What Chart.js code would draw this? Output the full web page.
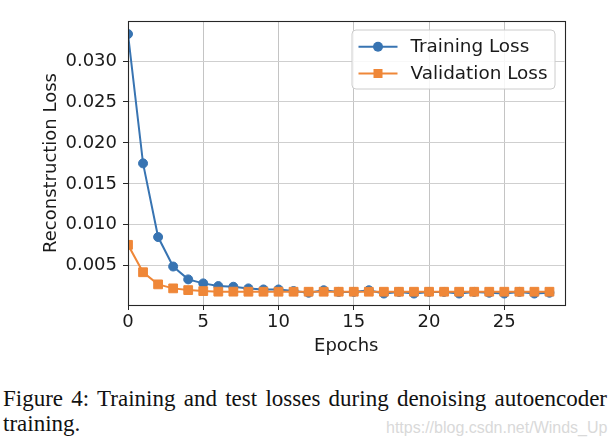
<!DOCTYPE html>
<html><head><meta charset="utf-8">
<script src="https://cdn.jsdelivr.net/npm/chart.js@4"></script>
<style>
html,body{margin:0;padding:0;background:#fff;}
#wrap{position:relative;width:614px;height:444px;overflow:hidden;background:#fff;}
#c{position:absolute;left:0;top:0;}
#cap{position:absolute;left:3px;top:386px;width:604px;font-family:"Liberation Serif","Times New Roman",serif;font-size:23px;line-height:25px;color:#111;text-align:justify;text-align-last:left;}
#wm{position:absolute;left:386px;top:419.5px;font-family:"Liberation Sans",Arial,sans-serif;font-size:16px;line-height:16px;color:#d9d9d9;white-space:nowrap;}
</style></head>
<body><div id="wrap"><canvas id="c" width="614" height="370"></canvas>
<div id="cap">Figure 4: Training and test losses during denoising autoencoder training.</div>
<div id="wm">https://blog.csdn.net/Winds_Up</div></div>
<script>
const epochs = [0,1,2,3,4,5,6,7,8,9,10,11,12,13,14,15,16,17,18,19,20,21,22,23,24,25,26,27,28];
const trainingLoss = [0.0333,0.0175,0.0085,0.0049,0.00333,0.00284,0.00251,0.00243,0.00223,0.0021,0.0021,0.0019,0.0017,0.0020,0.0018,0.0018,0.0020,0.0016,0.0018,0.0016,0.0018,0.0018,0.0016,0.0018,0.0017,0.0016,0.0018,0.0016,0.0017];
const validationLoss = [0.00755,0.0042,0.00272,0.00223,0.00202,0.0019,0.00183,0.00183,0.00182,0.00182,0.00182,0.00182,0.00182,0.00182,0.00182,0.00182,0.00182,0.00182,0.00182,0.00182,0.00182,0.00182,0.00182,0.00182,0.00182,0.00182,0.00182,0.00182,0.00182];
const seriesNames = ['Training Loss','Validation Loss'];
const xTicks = [0,5,10,15,20,25];
const yTicks = [0.005,0.010,0.015,0.020,0.025,0.030];
const xLabel = 'Epochs';
const yLabel = 'Reconstruction Loss';

const FONT = "'DejaVu Sans', sans-serif";
const BLUE = '#3874b2', ORANGE = '#ef8738';

const frame = {
  id: 'frame',
  afterDatasetsDraw(chart) {
    const {ctx, chartArea: a} = chart;
    ctx.save();
    ctx.strokeStyle = '#262626';
    ctx.lineWidth = 1.1;
    ctx.strokeRect(Math.round(a.left) + 0.5, Math.round(a.top) + 0.5, Math.round(a.right - a.left), Math.round(a.bottom - a.top));
    ctx.restore();
  }
};

const legendBox = {
  id: 'legendBox',
  afterDraw(chart) {
    const {ctx, chartArea: a} = chart;
    const ds = chart.data.datasets;
    const w = 203, h = 59;
    const x0 = a.right - 9.5 - w, y0 = a.top + 9;
    ctx.save();
    const r = 4;
    ctx.beginPath();
    ctx.moveTo(x0 + r, y0);
    ctx.lineTo(x0 + w - r, y0); ctx.quadraticCurveTo(x0 + w, y0, x0 + w, y0 + r);
    ctx.lineTo(x0 + w, y0 + h - r); ctx.quadraticCurveTo(x0 + w, y0 + h, x0 + w - r, y0 + h);
    ctx.lineTo(x0 + r, y0 + h); ctx.quadraticCurveTo(x0, y0 + h, x0, y0 + h - r);
    ctx.lineTo(x0, y0 + r); ctx.quadraticCurveTo(x0, y0, x0 + r, y0);
    ctx.closePath();
    ctx.fillStyle = 'rgba(255,255,255,0.85)';
    ctx.fill();
    ctx.strokeStyle = '#cccccc';
    ctx.lineWidth = 1;
    ctx.stroke();
    ds.forEach((d, i) => {
      const y = y0 + 16.7 + i * 26.8;
      ctx.strokeStyle = d.borderColor;
      ctx.lineWidth = d.borderWidth;
      ctx.beginPath(); ctx.moveTo(x0 + 6.5, y); ctx.lineTo(x0 + 45.5, y); ctx.stroke();
      ctx.fillStyle = d.pointBackgroundColor;
      const cx = x0 + 26;
      if (d.pointStyle === 'rect') {
        ctx.fillRect(cx - 4.5, y - 4.5, 9, 9);
      } else {
        ctx.beginPath(); ctx.arc(cx, y, 5, 0, Math.PI * 2); ctx.fill();
      }
      ctx.fillStyle = '#1a1a1a';
      ctx.font = '18.4px ' + FONT;
      ctx.textBaseline = 'middle';
      ctx.textAlign = 'left';
      ctx.fillText(d.label, x0 + 58.5, y + 1);
    });
    ctx.restore();
  }
};

new Chart(document.getElementById('c'), {
  type: 'line',
  data: {
    datasets: [
      {
        label: seriesNames[0],
        data: epochs.map((e, i) => ({x: e, y: trainingLoss[i]})),
        borderColor: BLUE, backgroundColor: BLUE,
        pointBackgroundColor: BLUE, pointBorderColor: BLUE,
        borderWidth: 2, pointRadius: 4.5, pointBorderWidth: 1,
        pointStyle: 'circle', tension: 0, clip: 0, order: 1
      },
      {
        label: seriesNames[1],
        data: epochs.map((e, i) => ({x: e, y: validationLoss[i]})),
        borderColor: ORANGE, backgroundColor: ORANGE,
        pointBackgroundColor: ORANGE, pointBorderColor: ORANGE,
        borderWidth: 2, pointRadius: 6.2, pointBorderWidth: 1,
        pointStyle: 'rect', tension: 0, clip: 0, order: 0
      }
    ]
  },
  options: {
    responsive: false,
    devicePixelRatio: 1,
    animation: false,
    events: [],
    layout: {padding: {left: 0, top: 21, right: 49.5, bottom: 0}},
    plugins: {legend: {display: false}, tooltip: {enabled: false}},
    scales: {
      x: {
        type: 'linear', min: 0, max: 29,
        afterBuildTicks: s => { s.ticks = xTicks.map(v => ({value: v})); },
        afterFit: s => { s.height = 65; },
        grid: {color: '#c4c4c4', lineWidth: 1, tickColor: '#262626', tickLength: 5, drawTicks: true},
        border: {display: false},
        ticks: {color: '#1a1a1a', font: {family: FONT, size: 18}, padding: 1.5, maxRotation: 0, autoSkip: false, callback: v => String(v)},
        title: {display: true, text: xLabel, color: '#1a1a1a', font: {family: FONT, size: 18}, padding: {top: 0, bottom: 12.5}}
      },
      y: {
        type: 'linear', min: 0.0002, max: 0.03489,
        afterBuildTicks: s => { s.ticks = yTicks.map(v => ({value: v})); },
        afterFit: s => { s.width = 128; },
        grid: {color: '#cfcfcf', lineWidth: 1, tickColor: '#262626', tickLength: 5, drawTicks: true},
        border: {display: false},
        ticks: {color: '#1a1a1a', font: {family: FONT, size: 18}, padding: 6, autoSkip: false, callback: v => v.toFixed(3)},
        title: {display: true, text: yLabel, color: '#1a1a1a', font: {family: FONT, size: 18}, padding: {top: 41, bottom: 0}}
      }
    }
  },
  plugins: [frame, legendBox]
});
</script>
</body></html>
